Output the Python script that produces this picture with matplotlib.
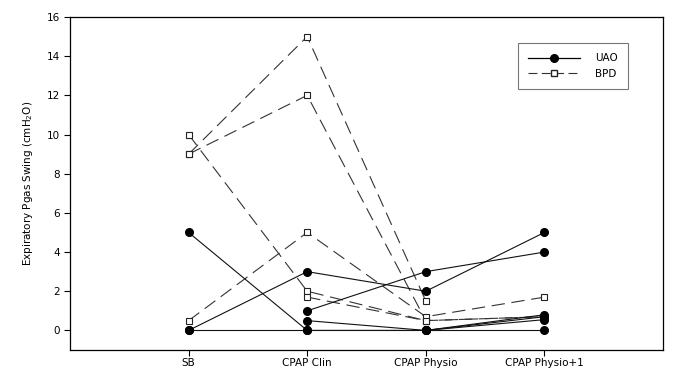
import numpy as np
import matplotlib
matplotlib.use("Agg")
import matplotlib.pyplot as plt
from matplotlib.lines import Line2D

conditions = ["SB", "CPAP Clin", "CPAP Physio", "CPAP Physio+1"]

# UAO subjects (values per condition, nan = not shown)
uao_1 = [0, 3, 2, 5]
uao_2 = [np.nan, 1, 3, 4]
uao_3 = [5, 0, 0, 0.7]
uao_4 = [0, 0, 0, 0]
uao_5 = [np.nan, 0.5, 0, 0.55]
uao_6 = [np.nan, np.nan, 0, 0.8]

# BPD subjects
bpd_1 = [9, 15, 1.5, np.nan]
bpd_2 = [9, 12, 0.5, 0.7]
bpd_3 = [10, 2, 0.5, np.nan]
bpd_4 = [0.5, 5, 0.7, 1.7]
bpd_5 = [np.nan, 1.7, 0.5, 0.7]

uao = [uao_1, uao_2, uao_3, uao_4, uao_5, uao_6]
bpd = [bpd_1, bpd_2, bpd_3, bpd_4, bpd_5]

yticks = [0, 2, 4, 6, 8, 10, 12, 14, 16]

plt.rcParams['font.family'] = ['DejaVu Sans']
fig = plt.figure(figsize=(6.85, 3.76), dpi=100)
ax = fig.add_axes([70/685, 1-350/376, (663-70)/685, (350-17)/376])

x = np.arange(1, len(conditions) + 1)

for s in bpd:
    ax.plot(x, s, color='#333333', lw=0.8, dashes=(12, 6),
            marker='s', ms=5, mfc='white', mec='#222222', mew=0.8, zorder=2)
for s in uao:
    ax.plot(x, s, color='#111111', lw=0.8, ls='-',
            marker='o', ms=5.5, mfc='black', mec='black', zorder=3)

ax.set_xlim(0, 5)
ax.set_ylim(-1, 16)
ax.set_xticks(x)
ax.set_xticklabels(conditions, fontsize=7.5)
ax.set_yticks(yticks)
ax.set_yticklabels([str(v) for v in yticks], fontsize=7.5)
ax.tick_params(direction='out', length=4, width=0.8)
ax.tick_params(axis='x', pad=2)
ax.tick_params(axis='y', pad=3)
ax.set_ylabel("Expiratory Pgas Swing (cmH$_2$O)", fontsize=7.5, labelpad=9)
for sp in ax.spines.values():
    sp.set_linewidth(0.9)
    sp.set_color('black')

handles = [
    Line2D([], [], color='black', lw=0.9, marker='o', ms=5.5, mfc='black'),
    Line2D([], [], color='#333333', lw=0.8, dashes=(8, 4), marker='s', ms=5,
           mfc='white', mec='#222222'),
]
leg = ax.legend(handles, ["UAO", "BPD"], loc='upper right',
                bbox_to_anchor=((628-70)/593, 1-(43-17)/333),
                borderaxespad=0,
                fontsize=7.5, frameon=True, fancybox=False, handlelength=5,
                handletextpad=1.4, borderpad=1.0, labelspacing=0.5)
leg.get_frame().set_edgecolor('#555555')
leg.get_frame().set_linewidth(0.8)

fig.savefig("out.png", dpi=100)
